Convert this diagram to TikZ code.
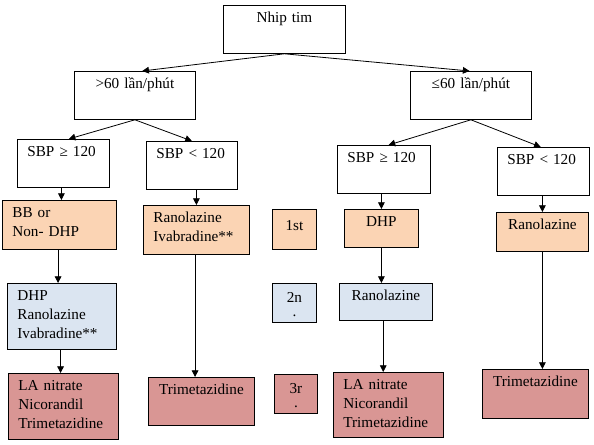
\documentclass[tikz,border=0pt]{standalone}
\usepackage{fontspec}
\setmainfont{Liberation Serif}
\usepackage{xcolor}
\usepackage{tikz}
\usetikzlibrary{arrows.meta, positioning, calc}
\definecolor{firstline}{HTML}{FBD4B4}
\definecolor{secondline}{HTML}{DBE5F1}
\definecolor{thirdline}{HTML}{D99694}

\begin{document}
\begin{tikzpicture}[
    x=0.75pt, y=-0.75pt,
    font=\fontsize{11.4}{14.25}\selectfont,
    cell/.style n args={2}{draw, line width=0.6pt, anchor=north west,
                 inner xsep=7.5pt, inner ysep=0pt, align=left,
                 text width={#1*0.75pt-15pt}, text height=13pt,
                 text depth={#2*0.75pt-13pt}},
    mid/.style={align=center},
    arr/.style={-{Triangle[length=5pt,width=5pt]}, line width=0.6pt}
]
    \useasboundingbox (0,0) rectangle (594,445);

    % heart rate and blood pressure
    \node[cell={122}{48}, mid] (nhip) at (223,5) {Nhip tim};
    \node[cell={121}{48}, mid] (fast) at (74,71) {>60 lần/phút};
    \node[cell={121}{48}, mid] (slow) at (410,71) {≤60 lần/phút};
    \node[cell={92}{48}] (fasthi) at (17,139) {SBP ≥ 120};
    \node[cell={91}{48}] (fastlo) at (146,141) {SBP < 120};
    \node[cell={93}{48}] (slowhi) at (337,145) {SBP ≥ 120};
    \node[cell={92}{48}] (slowlo) at (497,147) {SBP < 120};

    % first line
    \node[cell={114}{49}, fill=firstline] (bb) at (2,200) {BB or\\Non- DHP};
    \node[cell={106}{49}, fill=firstline] (raniva) at (143,205) {Ranolazine\\Ivabradine**};
    \node[cell={44}{40}, mid, fill=firstline, text height=15.75pt, text depth=14.25pt] (first) at (272,209) {1st};
    \node[cell={74}{38}, mid, fill=firstline] (dhp) at (344,209) {DHP};
    \node[cell={92}{39}, mid, fill=firstline] (rano) at (496,212) {Ranolazine};

    % second line
    \node[cell={109}{66}, fill=secondline] (dhpriva) at (7,283) {DHP\\Ranolazine\\Ivabradine**};
    \node[cell={44}{39}, mid, fill=secondline, text height=14.25pt, text depth=15pt] (second) at (272,283) {2n\\[-4pt].};
    \node[cell={93}{37}, mid, fill=secondline] (ranb) at (339,283) {Ranolazine};

    % third line
    \node[cell={110}{66}, fill=thirdline] (nitra) at (8,373) {LA nitrate\\Nicorandil\\Trimetazidine};
    \node[cell={106}{48}, mid, fill=thirdline] (trima) at (148,377) {Trimetazidine};
    \node[cell={43}{39}, mid, fill=thirdline, text height=14.25pt, text depth=15pt] (third) at (274,374) {3r\\[-4pt].};
    \node[cell={110}{65}, fill=thirdline] (nitrb) at (333,372) {LA nitrate\\Nicorandil\\Trimetazidine};
    \node[cell={106}{49}, mid, fill=thirdline] (trimb) at (482,369) {Trimetazidine};

    % connectors
    \draw[arr] (nhip.south) -- ([xshift=5.5pt]fast.north);
    \draw[arr] (nhip.south) -- ([xshift=-1pt]slow.north);
    \draw[arr] (fast.south) -- ([xshift=4pt]fasthi.north);
    \draw[arr] (fast.south) -- (fastlo.north);
    \draw[arr] (slow.south) -- ([xshift=3.5pt]slowhi.north);
    \draw[arr] (slow.south) -- ([xshift=-2pt]slowlo.north);
    \draw[arr] ([xshift=-1.5pt]fasthi.south) -- ([xshift=-1.5pt]fasthi.south |- bb.north);
    \draw[arr] (raniva.north |- fastlo.south) -- (raniva.north);
    \draw[arr] (dhp.north |- slowhi.south) -- (dhp.north);
    \draw[arr] (rano.north |- slowlo.south) -- (rano.north);
    \draw[arr] ([xshift=-1pt]bb.south) -- ([xshift=-1pt]bb.south |- dhpriva.north);
    \draw[arr] ([xshift=-1pt]raniva.south) -- ([xshift=-1pt]raniva.south |- trima.north);
    \draw[arr] ([xshift=-1pt]dhpriva.south) -- ([xshift=-1pt]dhpriva.south |- nitra.north);
    \draw[arr] (dhp.south) -- (dhp.south |- ranb.north);
    \draw[arr] ([xshift=-2pt]ranb.south) -- ([xshift=-2pt]ranb.south |- nitrb.north);
    \draw[arr] (rano.south) -- (rano.south |- trimb.north);
\end{tikzpicture}
\end{document}
